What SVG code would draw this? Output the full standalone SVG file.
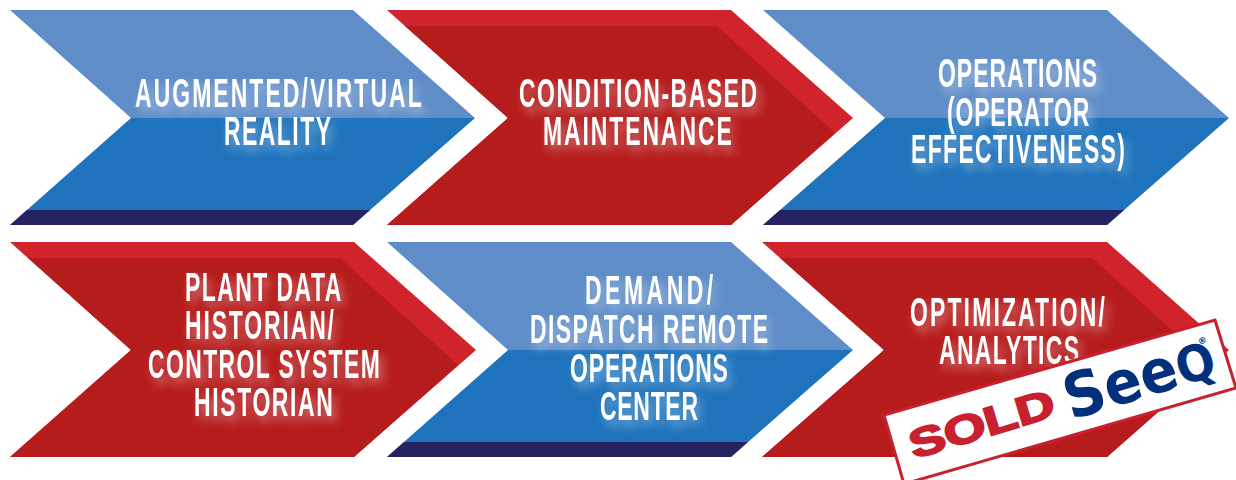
<svg xmlns="http://www.w3.org/2000/svg" width="1236" height="480" viewBox="0 0 1236 480">
<style>
.lb{fill:#5f8dc8}.mb{fill:#1e73bc}.db{fill:#272361}.lr{fill:#d0232b}.dr{fill:#b71c1c}
.t{font-family:"Liberation Sans",Arial,sans-serif;font-size:41px;font-weight:700;fill:#fff;filter:url(#glow)}
.sold{font-family:"Liberation Sans",Arial,sans-serif;font-weight:700;font-size:40px;fill:#c9202f;stroke:#c9202f;stroke-width:2px}
.seeq{font-family:"DejaVu Sans",Verdana,sans-serif;font-weight:700;fill:#02307a}
</style>
<defs>
<filter id="glow" x="-15%" y="-30%" width="130%" height="170%" color-interpolation-filters="sRGB">
<feGaussianBlur in="SourceAlpha" stdDeviation="5"/>
<feOffset dx="4" dy="6" result="b"/>
<feFlood flood-color="#fff" flood-opacity="0.42"/>
<feComposite in2="b" operator="in"/>
<feMerge><feMergeNode/><feMergeNode in="SourceGraphic"/></feMerge>
</filter>
</defs>
<rect width="1236" height="480" fill="#fff"/>

<g id="node-augmented">
<polygon class="lb" points="10,10 353,10 475,118 131,118"/>
<polygon class="mb" points="131,118 475,118 353,225 10,225"/>
<polygon class="db" points="27,210 370,210 353,225 10,225"/>
<g class="t"><text transform="translate(135 107) scale(.56 1)" textLength="512">AUGMENTED/VIRTUAL</text>
<text transform="translate(224 145) scale(.56 1)" textLength="191">REALITY</text></g>
</g>

<g id="node-condition">
<polygon class="lr" points="387,10 731,10 853,118 731,225 387,225 508,118"/>
<polygon class="dr" points="405,26 717,26 835,133 731,225 387,225 508,118"/>
<g class="t"><text transform="translate(519 107) scale(.56 1)" textLength="425">CONDITION-BASED</text>
<text transform="translate(543 145) scale(.56 1)" textLength="337">MAINTENANCE</text></g>
</g>

<g id="node-operations">
<polygon class="lb" points="763,10 1107,10 1229,118 885,118"/>
<polygon class="mb" points="885,118 1229,118 1107,225 763,225"/>
<polygon class="db" points="780,210 1124,210 1107,225 763,225"/>
<g class="t"><text transform="translate(938 87) scale(.56 1)" textLength="284">OPERATIONS</text>
<text transform="translate(947 126) scale(.56 1)" textLength="254">(OPERATOR</text>
<text transform="translate(911 163) scale(.56 1)" textLength="382">EFFECTIVENESS)</text></g>
</g>

<g id="node-historian">
<polygon class="lr" points="10,242 354,242 476,350 354,457 10,457 131,350"/>
<polygon class="dr" points="28,258 340,258 458,365 354,457 10,457 131,350"/>
<g class="t"><text transform="translate(185 301) scale(.56 1)" textLength="279">PLANT DATA</text>
<text transform="translate(185 339) scale(.56 1)" textLength="266">HISTORIAN/</text>
<text transform="translate(148 378) scale(.56 1)" textLength="414">CONTROL SYSTEM</text>
<text transform="translate(194 416) scale(.56 1)" textLength="248">HISTORIAN</text></g>
</g>

<g id="node-demand">
<polygon class="lb" points="387,242 731,242 853,350 508,350"/>
<polygon class="mb" points="508,350 853,350 731,457 387,457"/>
<polygon class="db" points="404,442 748,442 731,457 387,457"/>
<g class="t"><text transform="translate(585 304) scale(.56 1)" textLength="229">DEMAND/</text>
<text transform="translate(530 343) scale(.56 1)" textLength="425">DISPATCH REMOTE</text>
<text transform="translate(570 382) scale(.56 1)" textLength="282">OPERATIONS</text>
<text transform="translate(600 420) scale(.56 1)" textLength="175">CENTER</text></g>
</g>

<g id="node-optimization">
<polygon class="lr" points="762,242 1107,242 1229,350 1107,457 762,457 884,350"/>
<polygon class="dr" points="780,258 1092,258 1211,365 1107,457 762,457 884,350"/>
<g class="t"><text transform="translate(910 326) scale(.56 1)" textLength="348">OPTIMIZATION/</text>
<text transform="translate(939 364) scale(.56 1)" textLength="250">ANALYTICS</text></g>
</g>

<g id="stamp-sold">
<polygon points="1215,320 1236,388 904,484 884,415" fill="#fff" stroke="#c9202f" stroke-width="3"/>
<text class="sold" transform="translate(914,459) rotate(-17)" textLength="150" lengthAdjust="spacingAndGlyphs">SOLD</text>
<text class="seeq" transform="translate(1071,420) rotate(-17)" textLength="155" lengthAdjust="spacingAndGlyphs"><tspan font-size="62">S</tspan><tspan font-size="60">ee</tspan><tspan font-size="50">Q</tspan></text>
<text class="seeq" transform="translate(1199,345) rotate(-17)" font-size="9" font-weight="400">®</text>
</g>
</svg>
